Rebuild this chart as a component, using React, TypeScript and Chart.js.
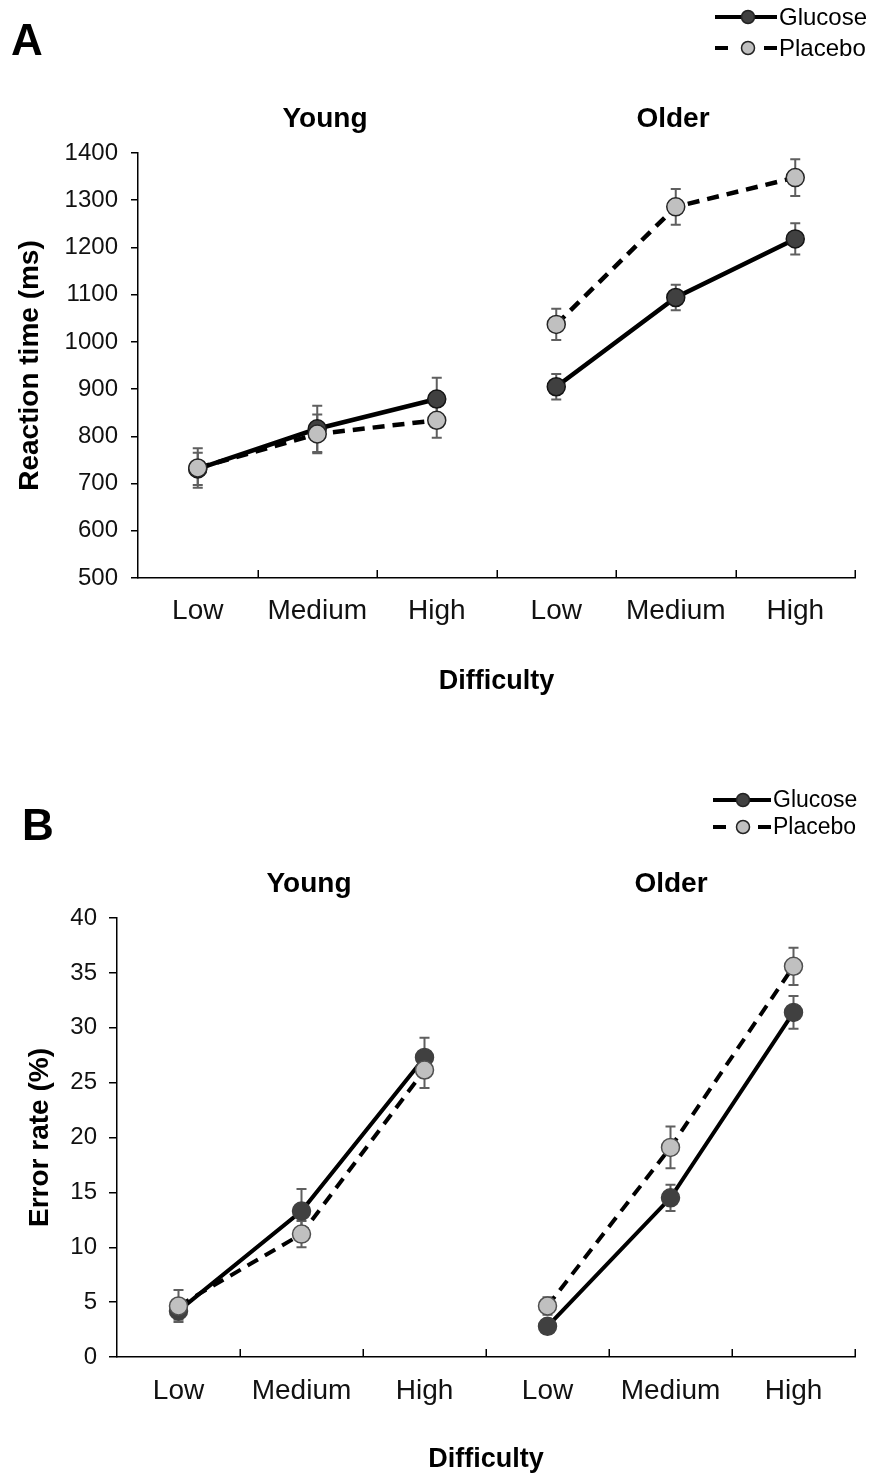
import React, { useEffect, useRef } from 'react';
import { Chart, registerables } from 'chart.js';

Chart.register(...registerables);

// ---------- data ----------
const difficultyLabels = ['Low', 'Medium', 'High', 'Low', 'Medium', 'High'];
const groupNames = ['Young', 'Older'];
const seriesNames = ['Glucose', 'Placebo'];

// Panel A: reaction time (ms), mean and SE
const rtGlucoseYoung = [731, 816, 879];
const rtGlucoseYoungSE = [34, 49, 45];
const rtPlaceboYoung = [733, 805, 834];
const rtPlaceboYoungSE = [42, 41, 37];
const rtGlucoseOlder = [905, 1094, 1218];
const rtGlucoseOlderSE = [27, 27, 33];
const rtPlaceboOlder = [1037, 1286, 1348];
const rtPlaceboOlderSE = [33, 38, 39];
const rtAxis = [500, 1400, 100];

// Panel B: error rate (%), mean and SE
const erGlucoseYoung = [4.2, 13.3, 27.3];
const erGlucoseYoungSE = [0.8, 2.0, 1.8];
const erPlaceboYoung = [4.65, 11.2, 26.15];
const erPlaceboYoungSE = [1.45, 1.2, 1.65];
const erGlucoseOlder = [2.8, 14.5, 31.4];
const erGlucoseOlderSE = [0.4, 1.2, 1.5];
const erPlaceboOlder = [4.65, 19.1, 35.6];
const erPlaceboOlderSE = [0.8, 1.9, 1.7];
const erAxis = [0, 40, 5];

// ---------- styling / layout ----------
const FONT = "'Liberation Sans', Arial, Helvetica, sans-serif";
Chart.defaults.font.family = FONT;
Chart.defaults.color = '#111';

const GLUCOSE_FILL = '#404040';
const PLACEBO_FILL = '#c0c0c0';
const ERR_COLOR = '#5f5f5f';

type Panel = {
  W: number; H: number;
  top: number; bottom: number; left: number; right: number;
  letter: string; letterX: number; letterY: number;
  titleY: number; titleXs: number[];
  legendRows: number[]; legendX0: number; legendX1: number; legendMarkerX: number; legendTextX: number; legendFont: number;
  yTitle: string; yTitlePad: number; yTickPad: number; yTickLen: number;
  xTickPad: number; xTitlePad: number;
  axis: number[];
  lineWidth: number; radius: number;
  glucoseBorder: string; placeboBorder: string;
  gY: number[]; gYe: number[]; pY: number[]; pYe: number[];
  gO: number[]; gOe: number[]; pO: number[]; pOe: number[];
};

const panelA: Panel = {
  W: 870, H: 730, top: 153, bottom: 578, left: 138, right: 855,
  letter: 'A', letterX: 11, letterY: 55,
  titleY: 127, titleXs: [325, 673],
  legendRows: [17, 48], legendX0: 715, legendX1: 777, legendMarkerX: 748, legendTextX: 779, legendFont: 24,
  yTitle: 'Reaction time (ms)', yTitlePad: 13, yTickPad: 13, yTickLen: 7,
  xTickPad: 16, xTitlePad: 32,
  axis: rtAxis, lineWidth: 4.5, radius: 9,
  glucoseBorder: '#151515', placeboBorder: '#262626',
  gY: rtGlucoseYoung, gYe: rtGlucoseYoungSE, pY: rtPlaceboYoung, pYe: rtPlaceboYoungSE,
  gO: rtGlucoseOlder, gOe: rtGlucoseOlderSE, pO: rtPlaceboOlder, pOe: rtPlaceboOlderSE,
};

const panelB: Panel = {
  W: 870, H: 746, top: 188, bottom: 627, left: 117, right: 855,
  letter: 'B', letterX: 22, letterY: 110,
  titleY: 162, titleXs: [309, 671],
  legendRows: [70, 97], legendX0: 713, legendX1: 771, legendMarkerX: 743, legendTextX: 773, legendFont: 23,
  yTitle: 'Error rate (%)', yTitlePad: 23, yTickPad: 12, yTickLen: 8,
  xTickPad: 17, xTitlePad: 0,
  axis: erAxis, lineWidth: 4, radius: 9,
  glucoseBorder: '#404040', placeboBorder: '#505050',
  gY: erGlucoseYoung, gYe: erGlucoseYoungSE, pY: erPlaceboYoung, pYe: erPlaceboYoungSE,
  gO: erGlucoseOlder, gOe: erGlucoseOlderSE, pO: erPlaceboOlder, pOe: erPlaceboOlderSE,
};

const DASH = [12, 8];

const young = (a: number[]) => [...a, null, null, null];
const older = (a: number[]) => [null, null, null, ...a];

const errorBarPlugin = {
  id: 'errorBars',
  beforeDatasetsDraw(chart: any) {
    const ctx = chart.ctx;
    const ys = chart.scales.y;
    chart.data.datasets.forEach((ds: any, di: number) => {
      const meta = chart.getDatasetMeta(di);
      const errs = ds.errors as (number | null)[];
      if (!errs) return;
      meta.data.forEach((pt: any, i: number) => {
        const v = ds.data[i];
        const e = errs[i];
        if (v == null || e == null) return;
        const top = ys.getPixelForValue(v + e);
        const bot = ys.getPixelForValue(v - e);
        ctx.save();
        ctx.strokeStyle = ERR_COLOR;
        ctx.lineWidth = 2;
        ctx.beginPath();
        ctx.moveTo(pt.x, top); ctx.lineTo(pt.x, bot);
        ctx.moveTo(pt.x - 5, top); ctx.lineTo(pt.x + 5, top);
        ctx.moveTo(pt.x - 5, bot); ctx.lineTo(pt.x + 5, bot);
        ctx.stroke();
        ctx.restore();
      });
    });
  },
};

function decorPlugin(p: Panel) {
  return {
    id: 'decor',
    afterDraw(chart: any) {
      const ctx = chart.ctx;
      const xs = chart.scales.x;
      const area = chart.chartArea;
      ctx.save();
      // inward ticks on x axis at category boundaries
      const step = xs.getPixelForValue(1) - xs.getPixelForValue(0);
      ctx.strokeStyle = '#000';
      ctx.lineWidth = 1.5;
      ctx.beginPath();
      for (let i = 0; i < difficultyLabels.length; i++) {
        const bx = Math.round(xs.getPixelForValue(i) + step / 2) + 0.25;
        ctx.moveTo(bx, area.bottom);
        ctx.lineTo(bx, area.bottom - 8);
      }
      ctx.stroke();

      // panel letter
      ctx.fillStyle = '#000';
      ctx.font = `bold 44px ${FONT}`;
      ctx.textAlign = 'left';
      ctx.textBaseline = 'alphabetic';
      ctx.fillText(p.letter, p.letterX, p.letterY);

      // group titles
      ctx.font = `bold 28px ${FONT}`;
      ctx.textAlign = 'center';
      groupNames.forEach((g, i) => ctx.fillText(g, p.titleXs[i], p.titleY));

      // legend
      seriesNames.forEach((name, i) => {
        const y = p.legendRows[i];
        ctx.strokeStyle = '#000';
        ctx.lineWidth = 4;
        ctx.beginPath();
        if (i === 0) {
          ctx.moveTo(p.legendX0, y); ctx.lineTo(p.legendX1, y);
        } else {
          ctx.moveTo(p.legendX0, y); ctx.lineTo(p.legendX0 + 13, y);
          ctx.moveTo(p.legendX1 - 13, y); ctx.lineTo(p.legendX1, y);
        }
        ctx.stroke();
        ctx.beginPath();
        ctx.arc(p.legendMarkerX, y, 6.5, 0, Math.PI * 2);
        ctx.fillStyle = i === 0 ? GLUCOSE_FILL : PLACEBO_FILL;
        ctx.fill();
        ctx.lineWidth = 1.5;
        ctx.strokeStyle = '#222';
        ctx.stroke();
        ctx.fillStyle = '#000';
        ctx.font = `${p.legendFont}px ${FONT}`;
        ctx.textAlign = 'left';
        ctx.textBaseline = 'middle';
        ctx.fillText(name, p.legendTextX, y + 1);
      });
      ctx.restore();
    },
  };
}

function buildConfig(p: Panel): any {
  const lineStyle = (fill: string, border: string, dashed: boolean) => ({
    borderColor: '#000',
    borderWidth: p.lineWidth,
    borderDash: dashed ? DASH : [],
    borderCapStyle: 'butt',
    pointRadius: p.radius,
    pointBackgroundColor: fill,
    pointBorderColor: border,
    pointBorderWidth: 1.5,
    pointHoverRadius: p.radius,
    fill: false,
    tension: 0,
    spanGaps: false,
  });
  const datasets = [
    { label: seriesNames[1], data: young(p.pY), errors: young(p.pYe), ...lineStyle(PLACEBO_FILL, p.placeboBorder, true) },
    { label: seriesNames[1], data: older(p.pO), errors: older(p.pOe), ...lineStyle(PLACEBO_FILL, p.placeboBorder, true) },
    { label: seriesNames[0], data: young(p.gY), errors: young(p.gYe), ...lineStyle(GLUCOSE_FILL, p.glucoseBorder, false) },
    { label: seriesNames[0], data: older(p.gO), errors: older(p.gOe), ...lineStyle(GLUCOSE_FILL, p.glucoseBorder, false) },
  ];
  return {
    type: 'line',
    data: { labels: difficultyLabels, datasets },
    options: {
      animation: false,
      responsive: false,
      maintainAspectRatio: false,
      events: [],
      layout: { padding: { top: p.top, right: p.W - p.right, left: 0, bottom: 0 } },
      plugins: {
        legend: { display: false },
        tooltip: { enabled: false },
        title: { display: false },
      },
      scales: {
        x: {
          type: 'category',
          offset: true,
          grid: { display: false, drawTicks: false, offset: true },
          border: { display: true, color: '#000', width: 1.5 },
          ticks: { font: { size: 28 }, color: '#111', padding: p.xTickPad, maxRotation: 0, autoSkip: false },
          title: {
            display: true, text: 'Difficulty', color: '#000',
            font: { size: 27, weight: 'bold' },
            padding: { top: 0, bottom: p.xTitlePad },
          },
          afterFit: (s: any) => { s.height = p.H - p.bottom; },
        },
        y: {
          type: 'linear',
          min: p.axis[0],
          max: p.axis[1],
          ticks: {
            stepSize: p.axis[2], font: { size: 24 }, color: '#111', padding: p.yTickPad,
            callback: (v: any) => String(v),
          },
          grid: { drawOnChartArea: false, drawTicks: true, tickLength: p.yTickLen, color: '#000', lineWidth: 1.5 },
          border: { display: true, color: '#000', width: 1.5 },
          title: {
            display: true, text: p.yTitle, color: '#000',
            font: { size: 28, weight: 'bold' },
            padding: { top: p.yTitlePad, bottom: 0 },
          },
          afterFit: (s: any) => { s.width = p.left; },
        },
      },
    },
    plugins: [errorBarPlugin, decorPlugin(p)],
  };
}

export default function App() {
  const refA = useRef<HTMLCanvasElement>(null);
  const refB = useRef<HTMLCanvasElement>(null);
  useEffect(() => {
    const a = new Chart(refA.current as HTMLCanvasElement, buildConfig(panelA));
    const b = new Chart(refB.current as HTMLCanvasElement, buildConfig(panelB));
    return () => { a.destroy(); b.destroy(); };
  }, []);
  return (
    <div style={{ position: 'absolute', left: 0, top: 0, width: 870, height: 1476, background: '#fff' }}>
      <canvas ref={refA} width={panelA.W} height={panelA.H}
        style={{ position: 'absolute', left: 0, top: 0, width: panelA.W, height: panelA.H }} />
      <canvas ref={refB} width={panelB.W} height={panelB.H}
        style={{ position: 'absolute', left: 0, top: panelA.H, width: panelB.W, height: panelB.H }} />
    </div>
  );
}
